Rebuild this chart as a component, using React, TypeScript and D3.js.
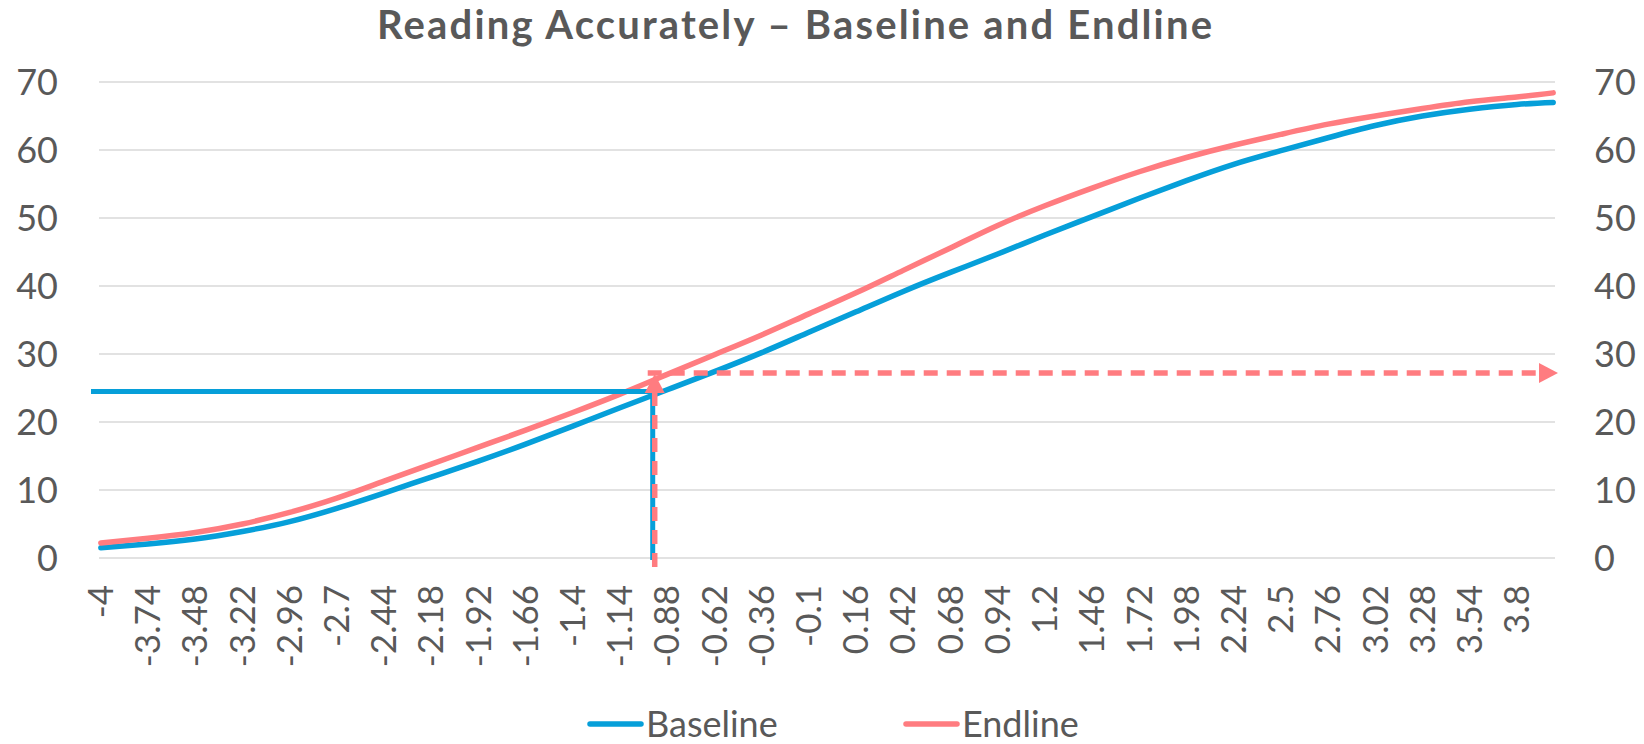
import React from 'react';
import * as d3 from 'd3';

const xTickLabels = ["-4","-3.74","-3.48","-3.22","-2.96","-2.7","-2.44","-2.18","-1.92","-1.66","-1.4","-1.14","-0.88","-0.62","-0.36","-0.1","0.16","0.42","0.68","0.94","1.2","1.46","1.72","1.98","2.24","2.5","2.76","3.02","3.28","3.54","3.8"];
const xPoints = [-4,-3.74,-3.48,-3.22,-2.96,-2.7,-2.44,-2.18,-1.92,-1.66,-1.4,-1.14,-0.88,-0.62,-0.36,-0.1,0.16,0.42,0.68,0.94,1.2,1.46,1.72,1.98,2.24,2.5,2.76,3.02,3.28,3.54,3.8,4];
const baselineValues = [1.5,2.06,2.8,3.9,5.35,7.3,9.55,11.9,14.25,16.75,19.4,22.1,24.75,27.4,30.2,33.2,36.2,39.2,42.0,44.7,47.5,50.2,52.9,55.5,57.9,59.9,61.8,63.6,65.0,66.0,66.7,67.0];
const endlineValues = [2.2,2.9,3.75,5.0,6.7,8.8,11.3,13.8,16.3,18.8,21.4,24.1,27.0,29.9,32.8,35.9,39.0,42.3,45.6,48.9,51.8,54.4,56.8,58.9,60.7,62.3,63.8,65.0,66.1,67.1,67.8,68.4];
const yTicks = [0,10,20,30,40,50,60,70];
const seriesNames = ["Baseline","Endline"];
const refCategory = -0.96;
const baselineRef = 24.5;
const endlineRef = 27.2;

const W = 1644, H = 744;
const BLUE = '#069FD9';
const PINK = '#FF7C80';
const TXT = '#595959';
const FONT = 'Lato, "Open Sans", sans-serif';

export default function App() {
  const x = d3.scaleLinear().domain([-4.01, 4.01]).range([99, 1555]);
  const y = d3.scaleLinear().domain([0, 70]).range([558, 82]);
  const line = d3.line<[number, number]>().x(d => x(d[0])).y(d => y(d[1])).curve(d3.curveNatural);
  const bPts = xPoints.map((v, i) => [v, baselineValues[i]] as [number, number]);
  const ePts = xPoints.map((v, i) => [v, endlineValues[i]] as [number, number]);

  const rx = x(refCategory);
  const by = y(baselineRef);
  const ey = y(endlineRef);
  const x0 = x.range()[0], x1 = x.range()[1];
  const y0 = y(0);

  const arrowTipX = x1 + 3;
  const upTipY = ey + 1;

  return (
    <svg width={W} height={H} style={{ position: 'fixed', left: 0, top: 0, background: '#fff' }} fontFamily={FONT}>
      <rect x={0} y={0} width={W} height={H} fill="#fff" />
      <text x={377} y={39} fontSize={40} fontWeight={700} fill={TXT} textLength={835} lengthAdjust="spacing">Reading Accurately – Baseline and Endline</text>
      {yTicks.map(t => (
        <line key={'g' + t} x1={x0} x2={x1} y1={y(t)} y2={y(t)} stroke="#D9D9D9" strokeWidth={1.6} />
      ))}
      {yTicks.map(t => (
        <text key={'yl' + t} x={58} y={y(t)} dy="0.35em" textAnchor="end" fontSize={36} fill={TXT}>{t}</text>
      ))}
      {yTicks.map(t => (
        <text key={'yr' + t} x={1594} y={y(t)} dy="0.35em" textAnchor="start" fontSize={36} fill={TXT}>{t}</text>
      ))}
      {xTickLabels.map(l => (
        <text key={'xl' + l} transform={`translate(${x(+l)},585) rotate(-90)`} dy="0.35em" textAnchor="end" fontSize={35} fill={TXT}>{l}</text>
      ))}
      <path d={line(bPts) || ''} fill="none" stroke={BLUE} strokeWidth={5.5} strokeLinecap="round" />
      <path d={line(ePts) || ''} fill="none" stroke={PINK} strokeWidth={5.5} strokeLinecap="round" />
      {/* baseline reference */}
      <line x1={x0 - 8} x2={rx + 4} y1={by} y2={by} stroke={BLUE} strokeWidth={5} />
      <line x1={rx} x2={rx} y1={by} y2={y0 + 2} stroke={BLUE} strokeWidth={5} />
      {/* endline reference */}
      <line x1={rx + 2} x2={rx + 2} y1={y0 + 9} y2={upTipY + 16} stroke={PINK} strokeWidth={5.5} strokeDasharray="14 9" />
      <polygon points={`${rx + 2},${upTipY} ${rx - 8},${upTipY + 19} ${rx + 12},${upTipY + 19}`} fill={PINK} />
      <line x1={rx - 5} x2={arrowTipX - 16} y1={ey} y2={ey} stroke={PINK} strokeWidth={5.5} strokeDasharray="14 9" />
      <polygon points={`${arrowTipX},${ey} ${arrowTipX - 19},${ey - 10} ${arrowTipX - 19},${ey + 10}`} fill={PINK} />
      {/* legend */}
      <line x1={590} x2={641} y1={724} y2={724} stroke={BLUE} strokeWidth={5.5} strokeLinecap="round" />
      <text x={646} y={724} dy="0.35em" fontSize={36} fill={TXT}>{seriesNames[0]}</text>
      <line x1={906} x2={957} y1={724} y2={724} stroke={PINK} strokeWidth={5.5} strokeLinecap="round" />
      <text x={962} y={724} dy="0.35em" fontSize={36} fill={TXT}>{seriesNames[1]}</text>
    </svg>
  );
}
